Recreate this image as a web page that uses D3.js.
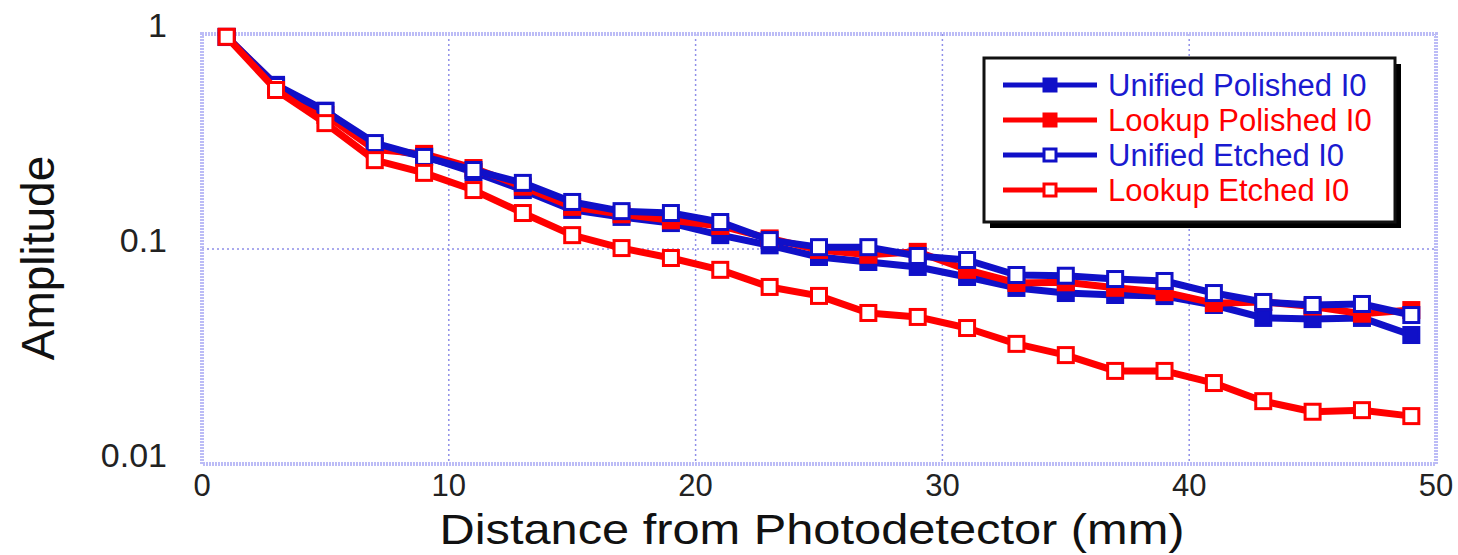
<!DOCTYPE html>
<html>
<head>
<meta charset="utf-8">
<script src="https://cdn.jsdelivr.net/npm/d3@7"></script>
<style>
  body { margin: 0; background: #fff; }
  text { font-family: "Liberation Sans", Arial, sans-serif; }
</style>
</head>
<body>
<script>
// distances (mm)
const distances = [1, 3, 5, 7, 9, 11, 13, 15, 17, 19, 21, 23, 25, 27, 29, 31, 33, 35, 37, 39, 41, 43, 45, 47, 49]

const unifiedPolished = [0.97, 0.58, 0.44, 0.30, 0.27, 0.228, 0.188, 0.152, 0.141, 0.132, 0.116, 0.104, 0.0918,
    0.087, 0.0825, 0.0741, 0.0659, 0.0624, 0.0611, 0.0604, 0.0549, 0.0478, 0.0472, 0.0478, 0.0398]
const lookupPolished = [0.97, 0.57, 0.42, 0.29, 0.277, 0.238, 0.195, 0.157, 0.145, 0.136, 0.128, 0.112, 0.099,
    0.094, 0.097, 0.080, 0.0695, 0.070, 0.066, 0.063, 0.056, 0.0567, 0.054, 0.050, 0.052]
const unifiedEtched = [0.968, 0.573, 0.438, 0.311, 0.268, 0.233, 0.203, 0.1655, 0.150, 0.147, 0.1335, 0.110, 0.102,
    0.102, 0.0928, 0.0889, 0.0757, 0.0751, 0.0725, 0.071, 0.0624, 0.0567, 0.0549, 0.0555, 0.0493]
const lookupEtched = [0.97, 0.549, 0.385, 0.259, 0.226, 0.188, 0.147, 0.116, 0.101, 0.0908, 0.080, 0.0666, 0.0605,
    0.0504, 0.0483, 0.0429, 0.0362, 0.0321, 0.0271, 0.0271, 0.0238, 0.0196, 0.0175, 0.0178, 0.0167]

const seriesNames = ["Unified Polished I0", "Lookup Polished I0", "Unified Etched I0", "Lookup Etched I0"]
const seriesValues = [unifiedPolished, lookupPolished, unifiedEtched, lookupEtched]
const seriesColors = ["#1010c8", "#ff0000", "#1010c8", "#ff0000"]
const seriesFilled = [true, true, false, false]

const xTicks = [0, 10, 20, 30, 40, 50]
const yTicks = [1, 0.1, 0.01]
const yTickLabels = ["1", "0.1", "0.01"]

var width = 1458,
    height = 555;

var margin = { left: 202, right: 22, top: 34, bottom: 91 }

var svg = d3.select("body")
    .append("svg")
    .attr("width", width)
    .attr("height", height);

var x = d3.scaleLinear().domain([0, 50]).range([margin.left, width - margin.right])
var y = d3.scaleLog().domain([0.01, 1]).range([height - margin.bottom, margin.top])

// grille pointillee
svg.append("g")
    .selectAll("line")
    .data(xTicks.slice(1, -1))
    .join("line")
    .attr("x1", d => x(d)).attr("x2", d => x(d))
    .attr("y1", y(1)).attr("y2", y(0.01))
    .attr("stroke", "#8f8fe8")
    .attr("stroke-width", 1.5)
    .attr("stroke-dasharray", "2,3");

svg.append("line")
    .attr("x1", x(0)).attr("x2", x(50))
    .attr("y1", y(0.1)).attr("y2", y(0.1))
    .attr("stroke", "#8f8fe8")
    .attr("stroke-width", 1.5)
    .attr("stroke-dasharray", "2,3");

// cadre
svg.append("rect")
    .attr("x", x(0)).attr("y", y(1))
    .attr("width", x(50) - x(0))
    .attr("height", y(0.01) - y(1))
    .attr("fill", "none")
    .attr("stroke", "#bcbcf6")
    .attr("stroke-width", 4)
    .attr("stroke-dasharray", "2,1");

// labels des axes
svg.append("g")
    .selectAll("text")
    .data(xTicks)
    .join("text")
    .attr("x", d => x(d))
    .attr("y", 496)
    .attr("text-anchor", "middle")
    .attr("font-size", 31)
    .attr("fill", "#222")
    .text(d => d);

svg.append("g")
    .selectAll("text")
    .data(yTicks)
    .join("text")
    .attr("x", 167)
    .attr("y", d => y(d) + 3)
    .attr("text-anchor", "end")
    .attr("font-size", 34)
    .attr("fill", "#222")
    .text((d, i) => yTickLabels[i]);

svg.append("text")
    .attr("x", 812)
    .attr("y", 544)
    .attr("text-anchor", "middle")
    .attr("font-size", 42)
    .attr("textLength", 745)
    .attr("lengthAdjust", "spacingAndGlyphs")
    .attr("fill", "#111")
    .text("Distance from Photodetector (mm)");

svg.append("text")
    .attr("transform", "translate(54,258) rotate(-90)")
    .attr("text-anchor", "middle")
    .attr("font-size", 46)
    .attr("fill", "#111")
    .text("Amplitude");

// series
var line = d3.line()
    .x((d, i) => x(distances[i]))
    .y(d => y(d));

var sq = 15

seriesValues.forEach((values, k) => {
    var g = svg.append("g");
    g.append("path")
        .attr("d", line(values))
        .attr("fill", "none")
        .attr("stroke", seriesColors[k])
        .attr("stroke-width", 7)
        .attr("stroke-linejoin", "round");
    g.selectAll("rect")
        .data(values)
        .join("rect")
        .attr("x", (d, i) => x(distances[i]) - sq / 2)
        .attr("y", d => y(d) - sq / 2)
        .attr("width", sq).attr("height", sq)
        .attr("fill", seriesFilled[k] ? seriesColors[k] : "#fff")
        .attr("stroke", seriesColors[k])
        .attr("stroke-width", 3);
})

// legende
var legend = svg.append("g").attr("transform", "translate(984,58)");

legend.append("rect")
    .attr("x", 6).attr("y", 6)
    .attr("width", 411).attr("height", 164)
    .attr("fill", "#000");

legend.append("rect")
    .attr("width", 411).attr("height", 164)
    .attr("fill", "#fff")
    .attr("stroke", "#111")
    .attr("stroke-width", 3);

seriesNames.forEach((name, k) => {
    var cy = 27 + k * 35;
    legend.append("line")
        .attr("x1", 19).attr("x2", 113)
        .attr("y1", cy).attr("y2", cy)
        .attr("stroke", seriesColors[k])
        .attr("stroke-width", 5);
    legend.append("rect")
        .attr("x", 66 - 6).attr("y", cy - 6)
        .attr("width", 12).attr("height", 12)
        .attr("fill", seriesFilled[k] ? seriesColors[k] : "#fff")
        .attr("stroke", seriesColors[k])
        .attr("stroke-width", 3);
    legend.append("text")
        .attr("x", 124)
        .attr("y", cy + 11)
        .attr("font-size", 31)
        .attr("fill", seriesColors[k] == "#ff0000" ? "#ff0000" : "#1a1ad0")
        .text(name);
})
</script>
</body>
</html>
